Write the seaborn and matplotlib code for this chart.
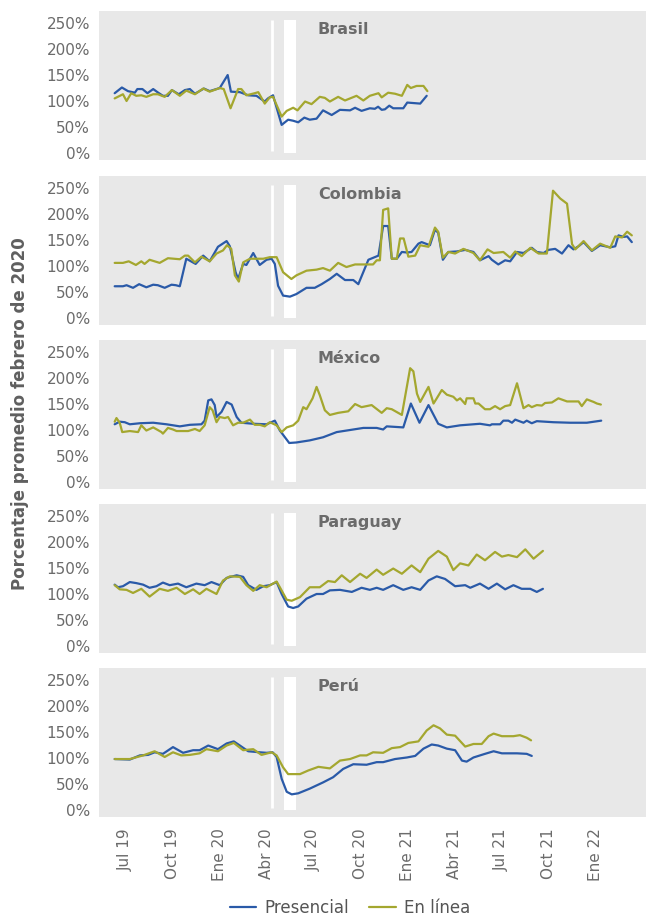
"""
Movilidad / actividad: presencial vs en línea, cinco países.
Porcentaje respecto al promedio de febrero de 2020.
"""

import numpy as np
import pandas as pd
import matplotlib
matplotlib.use("Agg")
import matplotlib.pyplot as plt
from matplotlib.lines import Line2D
import seaborn as sns

# ── Datos (semanas desde el inicio de la serie, % feb-2020) ──────────────────
inicio = pd.Timestamp("2019-06-10 12:00")

bra_pres_sem = [0, 2.0, 3.7, 5.6, 6.3, 7.7, 9.1, 10.7, 12.1, 13.4, 14.8, 15.9, 17.8, 19.5, 20.9, 22.3, 24.8, 26.4,
                29.2, 31.4, 32.3, 34.8, 37.1, 39.4, 41.7, 42.6, 44.0, 46.4, 48.2, 49.6, 51.0, 52.7, 54.2, 56.1,
                57.9, 60.3, 62.6, 65.4, 66.8, 68.6, 70.9, 72.3, 73.2, 74.2, 75.1, 76.3, 77.4, 80.2, 81.3, 84.9, 86.7]
bra_pres = [115, 126, 119, 116, 123, 123, 115, 123, 116, 110, 110, 121, 113, 121, 123, 114, 124, 119, 125, 150,
            118, 117, 111, 110, 99, 105, 111, 54, 64, 62, 59, 68, 64, 66, 82, 73, 83, 82, 87, 81,
            86, 85, 89, 83, 84, 91, 86, 86, 97, 95, 110]
bra_lin_sem = [0, 2.3, 3.3, 4.6, 6.0, 7.4, 8.8, 10.7, 12.0, 13.9, 15.9, 18.1, 19.9, 22.3, 24.6, 26.4, 29.2, 30.3,
               32.2, 34.3, 35.2, 36.6, 38.9, 39.9, 41.7, 43.1, 44.0, 46.4, 47.8, 49.6, 50.8, 52.9, 54.7, 57.0,
               58.4, 59.8, 62.1, 64.0, 67.2, 69.1, 70.9, 73.3, 74.2, 76.0, 77.9, 79.8, 81.3, 82.3, 83.9, 85.8, 86.9]
bra_lin = [105, 113, 100, 115, 110, 111, 108, 113, 113, 108, 121, 110, 120, 113, 124, 118, 125, 123, 86, 123,
           123, 111, 115, 117, 95, 107, 108, 70, 81, 87, 82, 99, 94, 108, 106, 99, 108, 101, 110, 101,
           110, 115, 107, 116, 114, 110, 131, 125, 129, 129, 119]

col_pres_sem = [0, 2.3, 3.3, 5.1, 6.8, 8.8, 10.7, 12.0, 13.9, 15.8, 17.0, 18.1, 19.9, 22.5, 24.6, 26.4, 28.7, 31.1,
                32.0, 33.6, 34.3, 35.7, 36.6, 38.5, 40.3, 42.2, 43.6, 44.5, 45.4, 46.8, 48.7, 50.5, 53.3, 55.6,
                57.5, 59.8, 61.7, 64.0, 66.3, 67.7, 70.5, 73.3, 74.6, 76.0, 77.0, 78.4, 79.8, 81.2, 82.5, 84.4,
                85.3, 87.6, 89.0, 89.9, 91.2, 92.7, 95.1, 97.4, 99.7, 101.5, 103.9, 104.8, 106.6, 108.5, 109.9,
                111.8, 113.6, 115.9, 117.3, 119.2, 120.5, 122.4, 124.3, 126.1, 127.5, 128.9, 130.3, 132.6, 134.9,
                137.7, 139.1, 140.0, 141.4, 142.4, 143.7]
col_pres = [61, 61, 63, 58, 65, 59, 64, 63, 58, 64, 63, 61, 114, 104, 120, 109, 137, 148, 138, 88,
            75, 104, 102, 125, 102, 112, 114, 104, 62, 43, 41, 46, 58, 58, 65, 75, 85, 73, 73, 65,
            112, 120, 177, 177, 114, 114, 127, 126, 127, 143, 146, 140, 170, 164, 112, 127, 128, 131, 127, 111,
            119, 112, 103, 111, 109, 127, 125, 135, 127, 125, 131, 133, 124, 140, 132, 138, 146, 129, 140, 136,
            138, 159, 156, 157, 146]
col_lin_sem = [0, 2.3, 3.9, 5.9, 7.4, 8.3, 9.7, 12.5, 14.8, 18.1, 19.5, 20.4, 22.3, 24.1, 26.4, 28.3, 30.1, 31.2,
               32.4, 33.4, 34.5, 35.7, 37.6, 39.4, 41.3, 43.1, 45.0, 46.8, 49.1, 50.5, 53.3, 56.1, 57.9, 59.8,
               62.1, 64.4, 66.8, 71.8, 72.8, 73.7, 74.6, 76.0, 77.0, 78.4, 79.3, 80.3, 81.6, 83.5, 84.9, 87.2,
               89.0, 89.9, 91.2, 92.7, 94.6, 96.9, 99.7, 101.5, 103.6, 105.3, 108.0, 109.9, 111.3, 113.1, 115.5,
               117.8, 120.1, 121.8, 123.8, 125.7, 127.1, 128.0, 130.3, 132.6, 134.9, 137.7, 139.1, 141.0, 142.4,
               143.7]
col_lin = [106, 106, 109, 102, 109, 104, 112, 106, 115, 113, 120, 120, 107, 118, 109, 124, 130, 140, 133, 82,
           70, 107, 114, 114, 114, 117, 117, 88, 75, 82, 91, 93, 96, 91, 106, 98, 103, 103, 111, 111,
           208, 211, 114, 114, 153, 153, 118, 120, 140, 137, 174, 166, 116, 127, 124, 133, 125, 111, 132, 125,
           127, 116, 128, 119, 135, 124, 124, 245, 230, 220, 142, 132, 148, 130, 143, 135, 157, 155, 166, 159]

mex_pres_sem = [0, 1.4, 2.8, 4.2, 7.0, 10.7, 14.4, 18.1, 20.9, 24.1, 25.0, 26.0, 26.9, 27.8, 28.3, 29.7, 31.1, 32.5,
                33.9, 35.2, 38.5, 42.2, 44.5, 45.9, 48.5, 50.5, 54.2, 57.9, 61.7, 65.4, 69.1, 72.8, 74.6, 75.6,
                80.2, 82.3, 84.7, 87.2, 89.9, 92.3, 96.0, 101.5, 104.3, 104.8, 107.1, 108.0, 109.4, 110.4, 111.3,
                113.6, 114.5, 115.9, 117.3, 121.9, 126.6, 131.2, 135.2]
mex_pres = [111, 116, 115, 111, 113, 114, 111, 107, 110, 111, 118, 157, 159, 148, 125, 135, 154, 149, 125, 114,
            112, 111, 118, 99, 75, 76, 80, 86, 96, 100, 104, 104, 101, 107, 105, 151, 114, 148, 112, 105,
            109, 112, 109, 111, 111, 118, 118, 114, 120, 114, 118, 113, 117, 115, 114, 114, 118]
mex_lin_sem = [0, 0.5, 1.4, 2.1, 4.2, 6.5, 7.4, 8.8, 10.7, 13.0, 13.4, 14.8, 16.2, 17.2, 20.4, 22.3, 23.6, 25.0,
               26.4, 27.2, 28.3, 29.2, 30.6, 31.5, 32.9, 34.3, 35.7, 37.6, 38.9, 40.3, 41.7, 43.1, 45.0, 46.4,
               47.8, 49.6, 51.0, 52.4, 53.3, 55.0, 56.1, 57.0, 58.4, 59.8, 62.1, 64.9, 66.8, 68.6, 71.4, 74.2,
               75.6, 77.0, 79.8, 82.1, 83.0, 84.0, 84.9, 87.2, 88.6, 89.5, 90.9, 92.3, 94.1, 95.1, 96.0, 97.4,
               97.8, 99.7, 100.2, 101.1, 102.9, 104.3, 105.7, 107.1, 108.5, 109.9, 111.8, 113.6, 115.0, 115.9,
               117.3, 118.7, 119.6, 121.5, 123.3, 125.7, 128.9, 129.8, 131.2, 133.1, 134.0, 135.1]
mex_lin = [116, 123, 114, 96, 98, 96, 109, 99, 105, 96, 93, 104, 101, 98, 98, 102, 98, 109, 144, 138,
           115, 125, 123, 125, 109, 114, 114, 120, 110, 110, 107, 115, 109, 96, 105, 109, 118, 144, 140, 161,
           183, 167, 138, 129, 133, 136, 150, 144, 148, 133, 142, 140, 129, 219, 213, 170, 154, 183, 151, 161,
           177, 168, 164, 157, 161, 150, 161, 161, 151, 151, 140, 140, 146, 140, 146, 148, 190, 142, 148, 144,
           148, 147, 152, 153, 161, 155, 155, 146, 159, 154, 151, 149]

par_pres_sem = [0, 0.9, 2.3, 4.2, 6.0, 7.9, 9.7, 11.6, 13.4, 15.3, 17.6, 19.9, 22.7, 25.0, 26.9, 29.2, 31.1, 33.9,
                35.7, 37.1, 39.4, 41.3, 43.1, 45.0, 46.4, 48.2, 49.6, 51.0, 53.3, 56.1, 57.9, 59.8, 62.6, 65.9,
                68.6, 70.9, 72.8, 74.6, 77.4, 80.2, 82.5, 84.9, 87.2, 89.5, 91.8, 94.6, 97.4, 98.8, 101.5, 103.9,
                106.2, 108.5, 110.8, 113.1, 115.5, 117.3, 119.0]
par_pres = [118, 113, 115, 123, 121, 118, 112, 115, 122, 117, 120, 113, 120, 117, 123, 117, 131, 136, 133, 117,
            108, 115, 117, 123, 100, 76, 73, 76, 91, 100, 100, 107, 108, 104, 112, 108, 112, 108, 117, 108,
            113, 108, 126, 134, 129, 115, 117, 112, 120, 110, 120, 109, 117, 110, 110, 104, 110]
par_lin_sem = [0, 1.4, 3.3, 5.1, 7.4, 9.7, 12.5, 14.8, 17.2, 19.5, 21.8, 23.6, 25.5, 28.3, 30.1, 32.0, 34.8, 36.6,
               38.5, 40.3, 42.2, 45.0, 45.9, 47.8, 49.2, 51.5, 54.2, 57.0, 59.3, 61.2, 63.1, 65.4, 68.2, 70.0,
               72.8, 74.6, 77.4, 79.8, 82.5, 84.9, 87.2, 89.9, 92.3, 94.1, 96.0, 98.3, 100.6, 102.9, 105.7, 107.6,
               109.4, 111.8, 114.1, 116.4, 119.0]
par_lin = [117, 109, 108, 102, 110, 95, 110, 106, 112, 100, 109, 100, 110, 100, 126, 134, 133, 117, 106, 117,
           113, 124, 113, 89, 87, 94, 113, 113, 125, 123, 136, 123, 139, 131, 147, 137, 149, 139, 155, 142,
           168, 183, 172, 146, 159, 155, 176, 165, 181, 172, 175, 171, 186, 168, 183]

per_pres_sem = [0, 4.2, 7.0, 9.3, 11.1, 13.4, 16.2, 19.0, 21.8, 23.6, 26.0, 28.7, 31.1, 33.1, 34.8, 37.1, 40.3, 42.2,
                43.9, 45.0, 46.4, 47.8, 49.2, 51.0, 54.2, 57.9, 60.7, 63.5, 66.3, 70.0, 72.8, 74.6, 77.9, 81.2,
                83.5, 85.8, 88.1, 89.9, 92.3, 94.6, 96.5, 97.8, 99.7, 102.9, 105.3, 107.6, 111.8, 114.5, 115.9]
per_pres = [98, 97, 105, 106, 111, 108, 121, 110, 115, 115, 124, 117, 128, 132, 124, 113, 111, 110, 111, 102,
            60, 35, 30, 32, 41, 53, 63, 79, 88, 87, 92, 92, 98, 101, 104, 118, 126, 124, 118, 115,
            95, 93, 101, 108, 113, 109, 109, 108, 104]
per_lin_sem = [0, 4.2, 7.9, 11.1, 13.9, 16.2, 18.5, 20.9, 23.6, 25.5, 28.7, 31.1, 33.1, 35.7, 38.5, 40.8, 43.6, 45.0,
               46.8, 48.2, 51.5, 53.8, 56.6, 59.8, 62.6, 65.4, 68.2, 70.0, 71.8, 74.6, 77.0, 79.3, 81.6, 84.4,
               86.7, 88.6, 90.4, 92.3, 94.6, 97.4, 99.7, 102.0, 103.9, 105.3, 107.6, 110.8, 112.6, 114.5, 115.7]
per_lin = [98, 98, 105, 113, 102, 111, 105, 106, 109, 117, 113, 124, 129, 115, 117, 106, 111, 105, 82, 69,
           69, 76, 83, 80, 95, 98, 105, 105, 111, 110, 119, 121, 129, 132, 153, 163, 157, 145, 143, 122,
           127, 127, 142, 147, 142, 142, 144, 139, 134]

paises = ["Brasil", "Colombia", "México", "Paraguay", "Perú"]
series = {
    "Brasil": ((bra_pres_sem, bra_pres), (bra_lin_sem, bra_lin)),
    "Colombia": ((col_pres_sem, col_pres), (col_lin_sem, col_lin)),
    "México": ((mex_pres_sem, mex_pres), (mex_lin_sem, mex_lin)),
    "Paraguay": ((par_pres_sem, par_pres), (par_lin_sem, par_lin)),
    "Perú": ((per_pres_sem, per_pres), (per_lin_sem, per_lin)),
}

# marcas del confinamiento
fecha_cierre = pd.Timestamp("2020-04-11")
banda_ini, banda_fin = pd.Timestamp("2020-05-05"), pd.Timestamp("2020-05-29")

ticks_x = pd.date_range("2019-07-01", "2022-01-01", freq="3MS")
meses = {1: "Ene", 4: "Abr", 7: "Jul", 10: "Oct"}
ticks_x_lbl = [f"{meses[d.month]} {d.year % 100}" for d in ticks_x]
ticks_y = [0, 50, 100, 150, 200, 250]


def fechas(sem):
    return inicio + pd.to_timedelta(np.asarray(sem) * 7, unit="D")


rows = []
for p in paises:
    (s_p, v_p), (s_l, v_l) = series[p]
    rows.append(pd.DataFrame({"pais": p, "fecha": fechas(s_p), "valor": v_p, "tipo": "Presencial"}))
    rows.append(pd.DataFrame({"pais": p, "fecha": fechas(s_l), "valor": v_l, "tipo": "En línea"}))
df = pd.concat(rows, ignore_index=True)

# ── Estilo ────────────────────────────────────────────────────────────────────
BLUE = "#2a5aa8"
GRN = "#a4a72f"
BG = "#e8e8e8"
TXT = "#6b6b6b"
pal = {"Presencial": BLUE, "En línea": GRN}

sns.set_theme(style="white")
plt.rcParams["font.family"] = ["DejaVu Sans"]

W, H = 647, 918
fig = plt.figure(figsize=(W / 100, H / 100), dpi=100, facecolor="white")

left, right = 99, 646
tops = [11, 176, 340, 504, 668]
alto = 149

for i, (p, top) in enumerate(zip(paises, tops)):
    ax = fig.add_axes([left / W, 1 - (top + alto) / H, (right - left) / W, alto / H])
    ax.set_facecolor(BG)
    ax.fill_betweenx([0, 256], banda_ini, banda_fin, color="white", lw=0, zorder=1)
    ax.vlines(fecha_cierre, 3, 256, color="white", lw=2, zorder=1)
    sns.lineplot(data=df[df.pais == p], x="fecha", y="valor", hue="tipo", palette=pal,
                 estimator=None, sort=True, lw=1.6, legend=False, ax=ax, zorder=3)
    ax.set_xlim(pd.Timestamp("2019-05-11"), pd.Timestamp("2022-04-09"))
    ax.set_ylim(-13.6, 273.3)
    ax.set_yticks(ticks_y)
    ax.set_yticklabels([f"{v}%" for v in ticks_y])
    ax.set_xticks(ticks_x)
    if i == len(paises) - 1:
        ax.set_xticklabels(ticks_x_lbl, rotation=90)
    else:
        ax.set_xticklabels([])
    ax.tick_params(length=0, labelsize=11, labelcolor=TXT)
    ax.tick_params(axis="y", pad=6.5)
    ax.tick_params(axis="x", pad=8)
    ax.set_xlabel("")
    ax.set_ylabel("")
    for s in ax.spines.values():
        s.set_visible(False)
    ax.text(0.40, 0.878, p, transform=ax.transAxes, fontsize=11.5, fontweight="bold",
            color=TXT, ha="left", va="center")

fig.text(20 / W, 1 - 414 / H, "Porcentaje promedio febrero de 2020", rotation=90,
         ha="center", va="center", fontsize=12, fontweight="bold", color="#5f5f5f")

handles = [Line2D([], [], color=BLUE, lw=1.6), Line2D([], [], color=GRN, lw=1.6)]
fig.legend(handles, ["Presencial", "En línea"], loc="center", bbox_to_anchor=(350 / W, 1 - 908 / H),
           ncol=2, frameon=False, fontsize=12, handlelength=1.6, handletextpad=0.5,
           columnspacing=1.2, labelcolor="#555555")

fig.savefig("out.png", dpi=100, facecolor="white")
plt.close(fig)
